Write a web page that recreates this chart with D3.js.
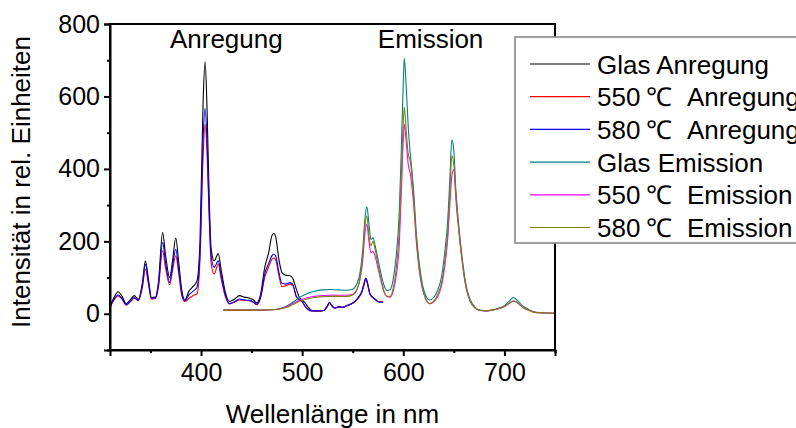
<!DOCTYPE html>
<html><head><meta charset="utf-8">
<script src="https://cdn.jsdelivr.net/npm/d3@7"></script>
<style>
html,body{margin:0;padding:0;background:#fff;overflow:hidden}
svg{display:block;font-family:"Liberation Sans",Arial,sans-serif}
</style></head>
<body>
<svg id="chart" width="796" height="428"></svg>
<script>
// ---------- data ----------
const exWl = [310,314,318,322,326,330,334,338,342,345,348,351,355,358,362,365,369,372,375,378,381,384,388,392,396,399,402,404,406,408,410,413,417,420,424,428,433,438,443,448,452,455,459,463,467,470,472,474,477,480,484,488,491,494,497,500,503,506,509,513,518,522,525,527,529,532,536,540,544,548,552,556,559,561,563,565,567,570,573,576,580];
const glasAnregung = [20,45,61,48,28,38,50,40,85,146,95,45,46,90,224,160,100,150,209,140,65,38,62,75,91,200,580,696,560,330,180,146,166,120,60,34,40,50,46,43,38,30,55,128,170,215,222,210,150,114,106,105,96,70,47,38,30,18,10,8,8,10,22,31,24,16,19,18,22,26,33,46,60,80,98,80,55,45,38,33,33];
const a550Anregung = [17,38,49,40,24,33,43,36,72,123,82,40,42,75,174,125,80,122,160,110,50,34,42,50,55,150,430,523,440,270,140,110,137,95,48,27,32,38,37,36,31,25,45,100,130,150,154,148,105,75,78,82,76,48,38,33,20,12,8,8,8,10,21,30,23,16,18,18,22,26,33,45,60,78,94,78,54,44,37,33,34];
const a580Anregung = [18,40,52,42,25,34,45,37,78,137,88,42,44,82,197,140,86,135,178,120,55,36,52,62,73,170,480,567,470,290,160,128,146,105,52,28,33,41,38,37,32,26,48,110,140,160,165,158,115,84,82,86,80,50,40,34,20,12,8,8,8,10,22,31,24,16,19,18,22,27,34,47,62,82,98,80,55,45,38,32,32];

const emWl = [422,430,440,450,460,470,478,485,492,498,505,512,520,528,536,544,550,554,557,560,562,564,566,568,570,572,575,578,581,584,587,590,593,596,598,600,601,603,605,607,610,613,616,619,622,626,630,634,638,641,644,646,648,650,652,655,658,662,666,671,676,682,688,694,700,705,709,713,718,724,730,736,743,750];
const glasEmission = [10,10,10,10,10,11,14,22,34,46,56,62,66,67,66,65,68,82,110,180,260,295,250,205,210,190,150,110,78,64,66,95,160,280,450,640,705,620,510,440,348,220,135,80,52,38,45,65,105,170,260,370,480,450,340,240,160,80,40,18,10,8,10,15,22,36,45,36,22,12,5,3,2,1];
const e550Emission = [10,10,10,10,10,11,14,20,30,38,44,48,50,51,51,51,54,66,92,150,220,247,200,169,172,160,125,90,60,47,46,62,105,190,330,480,523,470,410,385,310,195,115,68,42,28,33,48,80,130,210,300,380,399,330,230,150,72,35,16,9,8,10,14,20,29,35,30,18,10,4,3,2,1];
const e580Emission = [10,10,10,10,10,11,13,18,27,35,41,45,47,48,48,48,52,65,95,165,240,270,215,188,200,180,135,95,62,48,48,70,125,230,380,530,571,500,440,420,330,205,120,70,42,28,35,52,88,145,230,330,436,410,315,225,150,75,36,16,9,8,10,14,20,30,36,30,18,10,4,3,2,1];

const seriesNames = ["Glas Anregung","550 \u2103 Anregung","580 \u2103 Anregung","Glas Emission","550 \u2103 Emission","580 \u2103 Emission"];
const seriesColors = ["#000000","#ff0000","#0000ff","#008080","#ff00ff","#808000"];

const xTicks = [400,500,600,700];
const xMinor = [350,450,550,650,750];
const yTicks = [0,200,400,600,800];
const yMinor = [-100,100,300,500,700];

const xTitle = "Wellenlänge in nm";
const yTitle = "Intensität in rel. Einheiten";
const annotations = [{text:"Anregung", x:425}, {text:"Emission", x:627}];

// ---------- layout ----------
const svg = d3.select("#chart");
const L = 110, R = 555, T = 24, B = 350;
const x = d3.scaleLinear().domain([310,750]).range([L,R]);
const y = d3.scaleLinear().domain([-100,800]).range([B,T]);

const series = [
  {wl: exWl, v: glasAnregung},
  {wl: exWl, v: a550Anregung},
  {wl: exWl, v: a580Anregung},
  {wl: emWl, v: glasEmission},
  {wl: emWl, v: e550Emission},
  {wl: emWl, v: e580Emission}
];

svg.append("clipPath").attr("id","clip").append("rect")
  .attr("x",L).attr("y",T).attr("width",R-L).attr("height",B-T);

const line = d3.line().x(d=>x(d[0])).y(d=>y(d[1])).curve(d3.curveMonotoneX);
const g = svg.append("g").attr("clip-path","url(#clip)");
series.forEach((s,i)=>{
  g.append("path")
    .datum(s.wl.map((w,j)=>[w,s.v[j]]))
    .attr("d",line).attr("fill","none")
    .attr("stroke",seriesColors[i]).attr("stroke-width",1.1);
});

// axes
const fs = 25;
svg.append("g").attr("transform",`translate(0,${B})`)
  .call(d3.axisBottom(x).tickValues(xTicks).tickSize(6).tickPadding(7).tickFormat(d3.format("d")));
svg.append("g").attr("transform",`translate(0,${B})`)
  .call(d3.axisBottom(x).tickValues(xMinor).tickSize(3).tickFormat(""))
  .call(g=>g.select(".domain").remove());
svg.append("g").attr("transform",`translate(${L},0)`)
  .call(d3.axisLeft(y).tickValues(yTicks).tickSize(6).tickPadding(4).tickFormat(d3.format("d")));
svg.append("g").attr("transform",`translate(${L},0)`)
  .call(d3.axisLeft(y).tickValues(yMinor).tickSize(3).tickFormat(""))
  .call(g=>g.select(".domain").remove());
svg.selectAll(".tick line").attr("stroke","#000").attr("stroke-width",2);
svg.selectAll(".domain").attr("stroke","#000").attr("stroke-width",2);
svg.selectAll(".tick text").attr("font-size",fs).attr("fill","#000")
  .attr("font-family",'"Liberation Sans",Arial,sans-serif');

// frame
svg.append("rect").attr("x",L).attr("y",T).attr("width",R-L).attr("height",B-T)
  .attr("fill","none").attr("stroke","#000").attr("stroke-width",2);

// titles
svg.append("text").attr("x",(L+R)/2).attr("y",423).attr("text-anchor","middle")
  .attr("font-size",26).text(xTitle);
svg.append("text").attr("transform","translate(30,182) rotate(-90)").attr("text-anchor","middle")
  .attr("font-size",26).text(yTitle);

annotations.forEach(a=>{
  svg.append("text").attr("x",x(a.x)).attr("y",47.5).attr("text-anchor","middle")
    .attr("font-size",26).text(a.text);
});

// legend
const lg = svg.append("g");
lg.append("rect").attr("x",515).attr("y",37).attr("width",300).attr("height",206)
  .attr("fill","#fff").attr("stroke","#808080").attr("stroke-width",1.5);
seriesNames.forEach((n,i)=>{
  const yy = 64 + i*32.7;
  lg.append("line").attr("x1",530).attr("x2",590).attr("y1",yy).attr("y2",yy)
    .attr("stroke",seriesColors[i]).attr("stroke-width",1.2);
  const t = lg.append("text").attr("y",yy+9.5).attr("font-size",26);
  const k = n.indexOf("\u2103");
  if (k < 0) {
    t.attr("x",597).text(n);
  } else {
    t.append("tspan").attr("x",597).text(n.slice(0,k).trim());
    t.append("tspan").attr("x",646).text("\u2103");
    t.append("tspan").attr("x",687).text(n.slice(k+1).trim());
  }
});
</script>
</body></html>
